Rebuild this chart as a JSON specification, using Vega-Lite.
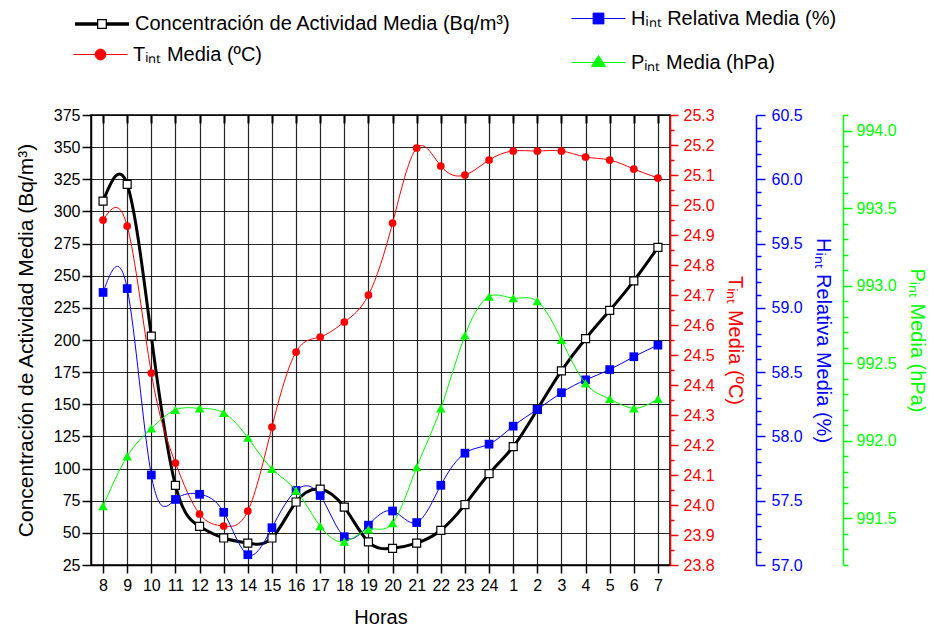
{
  "$schema": "https://vega.github.io/schema/vega-lite/v6.json",
  "width": 579,
  "height": 450,
  "autosize": {"type": "none"},
  "padding": {"left": 91, "top": 115, "right": 264, "bottom": 68},
  "background": "white",
  "config": {
    "font": "Liberation Sans",
    "view": {"stroke": "black", "strokeWidth": 1.5},
    "axis": {"labelFont": "Liberation Sans", "titleFont": "Liberation Sans", "titleFontWeight": "normal", "labelFlush": false, "labelOverlap": false},
    "legend": {"labelFont": "Liberation Sans"}
  },
  "data": {
    "values": [
      {"hora": "8", "conc": 308, "T": 24.95, "H": 59.12, "P": 991.58},
      {"hora": "9", "conc": 321, "T": 24.93, "H": 59.15, "P": 991.90},
      {"hora": "10", "conc": 203, "T": 24.44, "H": 57.70, "P": 992.08},
      {"hora": "11", "conc": 87, "T": 24.14, "H": 57.51, "P": 992.20},
      {"hora": "12", "conc": 55, "T": 23.97, "H": 57.55, "P": 992.21},
      {"hora": "13", "conc": 46, "T": 23.93, "H": 57.41, "P": 992.18},
      {"hora": "14", "conc": 42, "T": 23.98, "H": 57.08, "P": 992.02},
      {"hora": "15", "conc": 46, "T": 24.26, "H": 57.29, "P": 991.82},
      {"hora": "16", "conc": 74, "T": 24.51, "H": 57.58, "P": 991.68},
      {"hora": "17", "conc": 84, "T": 24.56, "H": 57.54, "P": 991.45},
      {"hora": "18", "conc": 70, "T": 24.61, "H": 57.22, "P": 991.35},
      {"hora": "19", "conc": 43, "T": 24.70, "H": 57.31, "P": 991.43},
      {"hora": "20", "conc": 38, "T": 24.94, "H": 57.42, "P": 991.47},
      {"hora": "21", "conc": 42, "T": 25.19, "H": 57.33, "P": 991.83},
      {"hora": "22", "conc": 52, "T": 25.13, "H": 57.62, "P": 992.21},
      {"hora": "23", "conc": 72, "T": 25.10, "H": 57.87, "P": 992.68},
      {"hora": "24", "conc": 96, "T": 25.15, "H": 57.94, "P": 992.93},
      {"hora": "1", "conc": 117, "T": 25.18, "H": 58.08, "P": 992.92},
      {"hora": "2", "conc": 146, "T": 25.18, "H": 58.21, "P": 992.90},
      {"hora": "3", "conc": 176, "T": 25.18, "H": 58.34, "P": 992.65},
      {"hora": "4", "conc": 201, "T": 25.16, "H": 58.44, "P": 992.37},
      {"hora": "5", "conc": 223, "T": 25.15, "H": 58.52, "P": 992.27},
      {"hora": "6", "conc": 246, "T": 25.12, "H": 58.62, "P": 992.21},
      {"hora": "7", "conc": 272, "T": 25.09, "H": 58.71, "P": 992.27}
    ]
  },
  "resolve": {"scale": {"y": "independent", "color": "independent"}, "axis": {"x": "independent"}},
  "layer": [
    {
      "encoding": {
        "x": {"field": "hora", "type": "ordinal", "sort": null, "scale": {"type": "point", "padding": 0.5},
          "axis": {"orient": "bottom", "title": "Horas", "labelAngle": 0, "grid": true, "gridColor": "#000", "gridOpacity": 0.85, "gridWidth": 1.2,
            "domainColor": "black", "domainWidth": 1.5, "tickColor": "black", "tickWidth": 1.5, "tickSize": 8,
            "labelFontSize": 16, "labelColor": "black", "labelPadding": 4, "titleFontSize": 20, "titleColor": "black", "titlePadding": 14}},
        "y": {"field": "conc", "type": "quantitative", "scale": {"domain": [25, 375], "nice": false, "zero": false},
          "axis": {"orient": "left", "values": [25, 50, 75, 100, 125, 150, 175, 200, 225, 250, 275, 300, 325, 350, 375],
            "title": "Concentración de Actividad Media (Bq/m³)", "grid": true, "gridColor": "#000", "gridOpacity": 0.85, "gridWidth": 1.2,
            "domainColor": "black", "domainWidth": 1.5, "tickColor": "black", "tickWidth": 1.5, "tickSize": 9,
            "labelFontSize": 16, "labelColor": "black", "labelPadding": 2, "titleFontSize": 21, "titleColor": "black", "titlePadding": 17}}
      },
      "layer": [
        {"mark": {"type": "line", "interpolate": "natural", "strokeWidth": 3},
          "encoding": {"color": {"datum": "Concentración de Actividad Media (Bq/m³)", "scale": {"range": ["black"]},
            "legend": {"orient": "none", "legendX": -17, "legendY": -119, "title": null, "padding": 0,
              "symbolType": "M-1,-0.04H-0.17M0.17,-0.04H1M-1,0H-0.17M0.17,0H1M-1,0.04H-0.17M0.17,0.04H1M-0.16,-0.16H0.16V0.16H-0.16Z",
              "symbolSize": 2916, "symbolStrokeWidth": 1.3, "symbolFillColor": "white", "symbolStrokeColor": "black",
              "labelFontSize": 20, "labelColor": "black", "labelOffset": 5, "labelLimit": 700}}}},
        {"mark": {"type": "point", "shape": "square", "filled": true, "fill": "white", "stroke": "black", "strokeWidth": 1.2, "size": 64, "opacity": 1}}
      ]
    },
    {
      "encoding": {
        "x": {"field": "hora", "type": "ordinal", "sort": null, "scale": {"type": "point", "padding": 0.5},
          "axis": {"orient": "top", "labels": false, "title": null, "grid": false, "domain": false, "tickColor": "black", "tickWidth": 2, "tickSize": -8}},
        "y": {"field": "T", "type": "quantitative", "scale": {"domain": [23.8, 25.3], "nice": false, "zero": false},
          "axis": {"orient": "right", "offset": 0, "grid": false,
            "values": [23.8, 23.85, 23.9, 23.95, 24, 24.05, 24.1, 24.15, 24.2, 24.25, 24.3, 24.35, 24.4, 24.45, 24.5, 24.55, 24.6, 24.65, 24.7, 24.75, 24.8, 24.85, 24.9, 24.95, 25, 25.05, 25.1, 25.15, 25.2, 25.25, 25.3],
            "labelExpr": "abs(datum.value*10 - round(datum.value*10)) < 0.01 ? format(datum.value, '.1f') : ''",
            "tickSize": {"condition": {"test": "abs(datum.value*10 - round(datum.value*10)) < 0.01", "value": 8}, "value": 4},
            "domainColor": "#ff0000", "domainWidth": 1.5, "tickColor": "#ff0000", "tickWidth": 1.5,
            "labelColor": "#ff0000", "labelFontSize": 16, "labelPadding": 5,
            "title": "Tᵢₙₜ Media (ºC)", "titleColor": "#ff0000", "titleFontSize": 20, "titlePadding": 10}}
      },
      "layer": [
        {"mark": {"type": "line", "interpolate": "natural", "strokeWidth": 1},
          "encoding": {"color": {"datum": "Tᵢₙₜ Media (ºC)", "scale": {"range": ["#ff0000"]},
            "legend": {"orient": "none", "legendX": -18, "legendY": -88, "title": null, "padding": 0,
              "symbolType": "M-1,0H1M-0.2,0A0.2,0.2 0 1,0 0.2,0A0.2,0.2 0 1,0 -0.2,0Z",
              "symbolSize": 2916, "symbolStrokeWidth": 1, "symbolFillColor": "#ff0000", "symbolStrokeColor": "#ff0000",
              "labelFontSize": 20, "labelColor": "black", "labelOffset": 5, "labelLimit": 700}}}},
        {"mark": {"type": "point", "shape": "circle", "filled": true, "color": "#ff0000", "size": 60, "opacity": 1}}
      ]
    },
    {
      "encoding": {
        "x": {"field": "hora", "type": "ordinal", "sort": null, "scale": {"type": "point", "padding": 0.5}, "axis": null},
        "y": {"field": "H", "type": "quantitative", "scale": {"domain": [57, 60.5], "nice": false, "zero": false},
          "axis": {"orient": "right", "offset": 86, "grid": false,
            "values": [57, 57.1, 57.2, 57.3, 57.4, 57.5, 57.6, 57.7, 57.8, 57.9, 58, 58.1, 58.2, 58.3, 58.4, 58.5, 58.6, 58.7, 58.8, 58.9, 59, 59.1, 59.2, 59.3, 59.4, 59.5, 59.6, 59.7, 59.8, 59.9, 60, 60.1, 60.2, 60.3, 60.4, 60.5],
            "labelExpr": "abs(datum.value*2 - round(datum.value*2)) < 0.01 ? format(datum.value, '.1f') : ''",
            "tickSize": {"condition": {"test": "abs(datum.value*2 - round(datum.value*2)) < 0.01", "value": 9}, "value": 5},
            "domainColor": "#0000ff", "domainWidth": 1.5, "tickColor": "#0000ff", "tickWidth": 1.5,
            "labelColor": "#0000ff", "labelFontSize": 16, "labelPadding": 6,
            "title": "Hᵢₙₜ Relativa Media (%)", "titleColor": "#0000ff", "titleFontSize": 20, "titlePadding": 10}}
      },
      "layer": [
        {"mark": {"type": "line", "interpolate": "natural", "strokeWidth": 1},
          "encoding": {"color": {"datum": "Hᵢₙₜ Relativa Media (%)", "scale": {"range": ["#0000ff"]},
            "legend": {"orient": "none", "legendX": 480, "legendY": -124, "title": null, "padding": 0,
              "symbolType": "M-1,0H1M-0.2,-0.2H0.2V0.2H-0.2Z",
              "symbolSize": 2916, "symbolStrokeWidth": 1, "symbolFillColor": "#0000ff", "symbolStrokeColor": "#0000ff",
              "labelFontSize": 20, "labelColor": "black", "labelOffset": 5, "labelLimit": 700}}}},
        {"mark": {"type": "point", "shape": "square", "filled": true, "color": "#0000ff", "size": 76, "opacity": 1}}
      ]
    },
    {
      "encoding": {
        "x": {"field": "hora", "type": "ordinal", "sort": null, "scale": {"type": "point", "padding": 0.5}, "axis": null},
        "y": {"field": "P", "type": "quantitative", "scale": {"domain": [991.2, 994.1], "nice": false, "zero": false},
          "axis": {"orient": "right", "offset": 173, "grid": false,
            "values": [991.2, 991.3, 991.4, 991.5, 991.6, 991.7, 991.8, 991.9, 992, 992.1, 992.2, 992.3, 992.4, 992.5, 992.6, 992.7, 992.8, 992.9, 993, 993.1, 993.2, 993.3, 993.4, 993.5, 993.6, 993.7, 993.8, 993.9, 994, 994.1],
            "labelExpr": "abs(datum.value*2 - round(datum.value*2)) < 0.01 ? format(datum.value, '.1f') : ''",
            "tickSize": {"condition": {"test": "abs(datum.value*2 - round(datum.value*2)) < 0.01", "value": 9}, "value": 5},
            "domainColor": "#00ff00", "domainWidth": 1.5, "tickColor": "#00ff00", "tickWidth": 1.5,
            "labelColor": "#00ff00", "labelFontSize": 16, "labelPadding": 4,
            "title": "Pᵢₙₜ Media (hPa)", "titleColor": "#00ff00", "titleFontSize": 20, "titlePadding": 10}}
      },
      "layer": [
        {"mark": {"type": "line", "interpolate": "natural", "strokeWidth": 1},
          "encoding": {"color": {"datum": "Pᵢₙₜ Media (hPa)", "scale": {"range": ["#00ff00"]},
            "legend": {"orient": "none", "legendX": 480, "legendY": -80, "title": null, "padding": 0,
              "symbolType": "M-1,0H1M0,-0.26L0.26,0.15H-0.26Z",
              "symbolSize": 2916, "symbolStrokeWidth": 1, "symbolFillColor": "#00ff00", "symbolStrokeColor": "#00ff00",
              "labelFontSize": 20, "labelColor": "black", "labelOffset": 5, "labelLimit": 700}}}},
        {"mark": {"type": "point", "shape": "triangle-up", "filled": true, "color": "#00ff00", "size": 90, "opacity": 1}}
      ]
    }
  ]
}
